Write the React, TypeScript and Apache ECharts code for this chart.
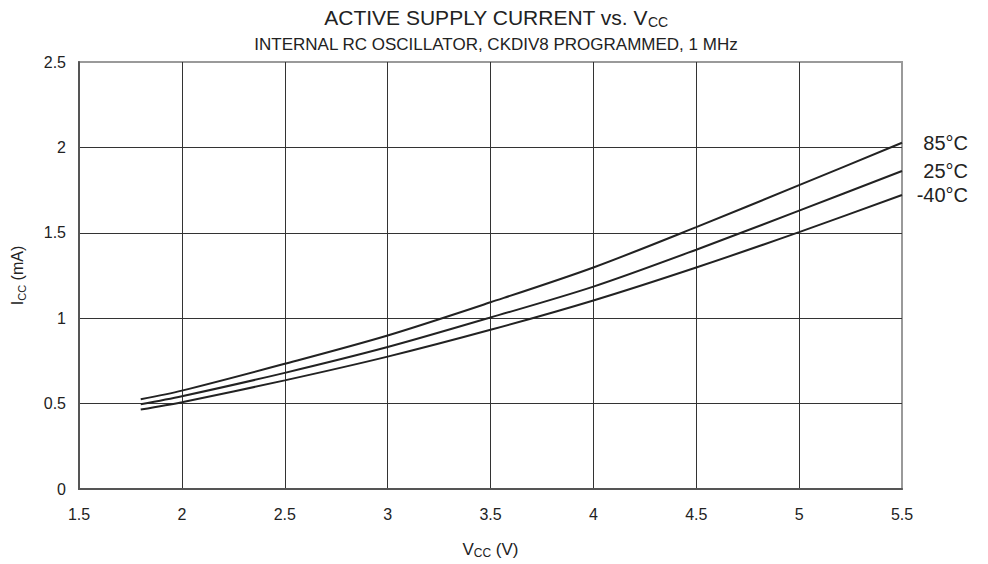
import React, { useEffect, useRef } from "react";
import * as echarts from "echarts";

const voltages = [1.8, 2.0, 2.5, 3.0, 3.5, 4.0, 4.5, 5.0, 5.5];
const current85 = [0.525, 0.576, 0.733, 0.899, 1.093, 1.297, 1.533, 1.779, 2.027];
const current25 = [0.496, 0.543, 0.68, 0.831, 1.004, 1.185, 1.401, 1.63, 1.862];
const currentM40 = [0.465, 0.508, 0.636, 0.775, 0.932, 1.104, 1.297, 1.504, 1.721];
const seriesNames = ["85°C", "25°C", "-40°C"];
const xTicks = { min: 1.5, max: 5.5, interval: 0.5 };
const yTicks = { min: 0, max: 2.5, interval: 0.5 };

const FONT = "Liberation Sans, Arial, Helvetica, sans-serif";
const TXT = "#222";

export default function App() {
  const ref = useRef<HTMLDivElement>(null);
  useEffect(() => {
    if (!ref.current) return;
    const chart = echarts.init(ref.current, undefined, { renderer: "svg" });
    const mk = (name: string, vals: number[]) => ({
      name,
      type: "line",
      smooth: 0.3,
      showSymbol: false,
      symbol: "none",
      data: voltages.map((v, i) => [v, vals[i]]),
      lineStyle: { color: "#222", width: 2 },
      itemStyle: { color: "#222" },
      endLabel: {
        show: true,
        formatter: "{a}",
        align: "right",
        distance: 0,
        offset: [66, 0],
        fontSize: 20,
        color: TXT,
        fontFamily: FONT,
      },
    });
    chart.setOption({
      animation: false,
      backgroundColor: "#fff",
      textStyle: { fontFamily: FONT },
      title: {
        text: "ACTIVE SUPPLY CURRENT vs. V{sub|CC}",
        subtext: "INTERNAL RC OSCILLATOR, CKDIV8 PROGRAMMED, 1 MHz",
        left: 491,
        textAlign: "center",
        top: 0,
        itemGap: 5,
        textStyle: {
          fontSize: 21,
          fontWeight: "normal",
          color: TXT,
          fontFamily: FONT,
          lineHeight: 24,
          rich: {
            sub: { fontSize: 14, lineHeight: 14, verticalAlign: "bottom", color: TXT, fontFamily: FONT },
          },
        },
        subtextStyle: { fontSize: 17, color: TXT, fontFamily: FONT, lineHeight: 20 },
      },
      grid: {
        left: 79,
        right: 86,
        top: 62,
        bottom: 72,
        show: true,
        borderColor: "#9a9a9a",
        borderWidth: 2,
        backgroundColor: "transparent",
      },
      xAxis: {
        type: "value",
        min: xTicks.min,
        max: xTicks.max,
        interval: xTicks.interval,
        name: "V{sub|CC} (V)",
        nameLocation: "middle",
        nameGap: 50,
        nameTextStyle: {
          fontSize: 17,
          color: TXT,
          fontFamily: FONT,
          lineHeight: 20,
          rich: { sub: { fontSize: 12, lineHeight: 12, verticalAlign: "bottom", color: TXT, fontFamily: FONT } },
        },
        axisLine: { show: true, lineStyle: { color: "#555", width: 2 } },
        axisTick: { show: false },
        axisLabel: { fontSize: 16, color: TXT, margin: 17, fontFamily: FONT },
        splitLine: { show: true, showMinLine: false, showMaxLine: false, lineStyle: { color: "#333", width: 1 } },
      },
      yAxis: {
        type: "value",
        min: yTicks.min,
        max: yTicks.max,
        interval: yTicks.interval,
        name: "I{sub|CC} (mA)",
        nameLocation: "middle",
        nameGap: 52,
        nameRotate: 90,
        nameTextStyle: {
          fontSize: 16,
          color: TXT,
          fontFamily: FONT,
          lineHeight: 19,
          rich: { sub: { fontSize: 11, lineHeight: 11, verticalAlign: "bottom", color: TXT, fontFamily: FONT } },
        },
        axisLine: { show: true, lineStyle: { color: "#555", width: 2 } },
        axisTick: { show: false },
        axisLabel: { fontSize: 16, color: TXT, margin: 13, fontFamily: FONT },
        splitLine: { show: true, showMinLine: false, showMaxLine: false, lineStyle: { color: "#333", width: 1 } },
      },
      series: [
        mk(seriesNames[0], current85),
        mk(seriesNames[1], current25),
        mk(seriesNames[2], currentM40),
      ],
    });
    return () => chart.dispose();
  }, []);
  return <div ref={ref} style={{ width: 988, height: 564, position: "absolute", left: 0, top: 0 }} />;
}
